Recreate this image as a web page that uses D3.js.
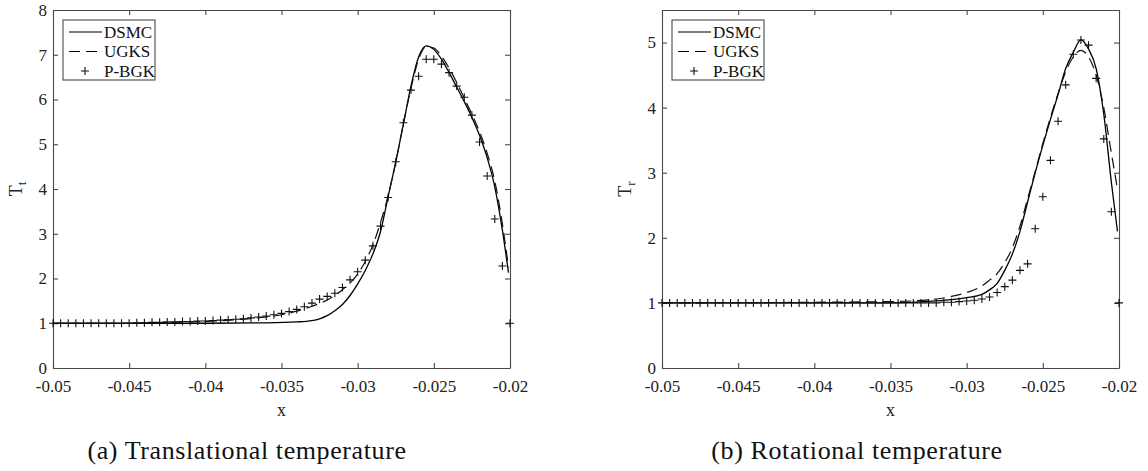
<!DOCTYPE html>
<html>
<head>
<meta charset="utf-8">
<script src="https://cdn.jsdelivr.net/npm/d3@7"></script>
<style>
	body { margin: 0; background: #fff; }
	svg { display: block; }
</style>
</head>
<body>
<svg id="chart" width="1148" height="471"></svg>
<script>
'use strict'

var xTicks = [-0.05, -0.045, -0.04, -0.035, -0.03, -0.025, -0.02];
var xTickLabels = ["-0.05", "-0.045", "-0.04", "-0.035", "-0.03", "-0.025", "-0.02"];
var seriesNames = ["DSMC", "UGKS", "P-BGK"];

// P-BGK sample positions (same grid for both panels)
var bgkX = [-0.05, -0.0495, -0.049, -0.0485, -0.048, -0.0475, -0.047, -0.0465, -0.046, -0.0455,
	-0.045, -0.0445, -0.044, -0.0435, -0.043, -0.0425, -0.042, -0.0415, -0.041, -0.0405,
	-0.04, -0.0395, -0.039, -0.0385, -0.038, -0.0375, -0.037, -0.0365, -0.036, -0.0355,
	-0.035, -0.0345, -0.034, -0.0335, -0.033, -0.0325, -0.032, -0.0315, -0.031, -0.0305,
	-0.03, -0.0295, -0.029, -0.0285, -0.028, -0.0275, -0.027, -0.0265, -0.026, -0.0255,
	-0.025, -0.0245, -0.024, -0.0235, -0.023, -0.0225, -0.022, -0.0215, -0.021, -0.0205, -0.02];

// (a) translational temperature
var ttDsmcX = [-0.05, -0.04, -0.036, -0.034, -0.033, -0.0325, -0.032, -0.0315, -0.031, -0.0305, -0.03, -0.0295, -0.029, -0.0285, -0.028, -0.0275, -0.027, -0.0265, -0.026, -0.0255, -0.025, -0.0245, -0.024, -0.0235, -0.023, -0.0225, -0.022, -0.0215, -0.021, -0.0205, -0.0201];
var ttDsmcY = [1.0, 1.0, 1.01, 1.03, 1.06, 1.10, 1.17, 1.28, 1.42, 1.62, 1.88, 2.18, 2.55, 3.05, 3.83, 4.6, 5.45, 6.3, 6.95, 7.2, 7.12, 6.9, 6.6, 6.28, 5.95, 5.6, 5.2, 4.7, 4.05, 3.08, 2.13];
var ttUgksX = [-0.05, -0.045, -0.042, -0.04, -0.038, -0.036, -0.035, -0.034, -0.033, -0.032, -0.031, -0.03, -0.0295, -0.029, -0.0285, -0.028, -0.0275, -0.027, -0.0265, -0.026, -0.0255, -0.025, -0.0245, -0.024, -0.0235, -0.023, -0.0225, -0.022, -0.0215, -0.021, -0.0205, -0.0201];
var ttUgksY = [1.0, 1.0, 1.02, 1.04, 1.08, 1.14, 1.19, 1.27, 1.38, 1.52, 1.75, 2.1, 2.38, 2.75, 3.25, 3.85, 4.6, 5.45, 6.25, 6.9, 7.18, 7.15, 6.97, 6.7, 6.38, 6.03, 5.67, 5.28, 4.8, 4.18, 3.22, 2.25];
var ttBgkY = [1.0, 1.0, 1.0, 1.0, 1.0, 1.0, 1.0, 1.0, 1.0, 1.0,
	1.0, 1.01, 1.01, 1.02, 1.02, 1.03, 1.03, 1.04, 1.04, 1.05,
	1.05, 1.06, 1.07, 1.08, 1.09, 1.10, 1.12, 1.14, 1.16, 1.19,
	1.22, 1.26, 1.31, 1.37, 1.45, 1.54, 1.60, 1.67, 1.80, 1.97,
	2.15, 2.41, 2.73, 3.17, 3.81, 4.61, 5.48, 6.21, 6.52, 6.90,
	6.90, 6.79, 6.60, 6.30, 6.05, 5.65, 5.05, 4.29, 3.33, 2.28, 1.0];

// (b) rotational temperature
var trDsmcX = [-0.05, -0.035, -0.032, -0.031, -0.03, -0.029, -0.0285, -0.028, -0.0275, -0.027, -0.0265, -0.026, -0.0255, -0.025, -0.0245, -0.024, -0.0235, -0.023, -0.0225, -0.022, -0.0215, -0.021, -0.0205, -0.0201];
var trDsmcY = [1.0, 1.0, 1.03, 1.05, 1.08, 1.13, 1.2, 1.3, 1.5, 1.75, 2.1, 2.55, 3.0, 3.42, 3.82, 4.2, 4.6, 4.85, 5.04, 4.9, 4.6, 3.9, 2.85, 2.1];
var trUgksX = [-0.05, -0.035, -0.032, -0.031, -0.03, -0.029, -0.0285, -0.028, -0.0275, -0.027, -0.0265, -0.026, -0.0255, -0.025, -0.0245, -0.024, -0.0235, -0.023, -0.0225, -0.022, -0.0215, -0.021, -0.0205, -0.0201];
var trUgksY = [1.0, 1.02, 1.06, 1.1, 1.16, 1.26, 1.35, 1.45, 1.62, 1.85, 2.18, 2.6, 3.02, 3.45, 3.85, 4.22, 4.55, 4.78, 4.88, 4.78, 4.5, 4.0, 3.3, 2.75];
var trBgkY = [1.0, 1.0, 1.0, 1.0, 1.0, 1.0, 1.0, 1.0, 1.0, 1.0,
	1.0, 1.0, 1.0, 1.0, 1.0, 1.0, 1.0, 1.0, 1.0, 1.0,
	1.0, 1.0, 1.0, 1.0, 1.0, 1.0, 1.0, 1.0, 1.0, 1.0,
	1.0, 1.0, 1.0, 1.0, 1.0, 1.0, 1.0, 1.01, 1.01, 1.02,
	1.03, 1.04, 1.06, 1.09, 1.16, 1.25, 1.35, 1.50, 1.60, 2.14,
	2.63, 3.19, 3.79, 4.35, 4.82, 5.04, 4.96, 4.45, 3.52, 2.40, 1.0];

var ttTicks = [0, 1, 2, 3, 4, 5, 6, 7, 8];
var trTicks = [0, 1, 2, 3, 4, 5];

function zip(xs, ys){
	return xs.map(function(x, i){ return {x: x, y: ys[i]}; });
}

var svg = d3.select("#chart");
var serif = '"Liberation Serif", "Times New Roman", serif';
var axisColor = "#4a4a4a";

function drawPanel(p){
	var x = d3.scaleLinear().domain([-0.05, -0.02]).range([p.left, p.right]);
	var y = d3.scaleLinear().domain(p.yDomain).range([p.bottom, p.top]);
	var g = svg.append("g").attr("class", "panel");

	// box with inward ticks on all four sides
	var fmt = function(d, i){ return xTickLabels[i]; };
	g.append("g").attr("class", "axis").attr("transform", "translate(0," + p.bottom + ")")
		.call(d3.axisBottom(x).tickValues(xTicks).tickFormat(fmt).tickSizeInner(-5).tickSizeOuter(0).tickPadding(12));
	g.append("g").attr("class", "axis").attr("transform", "translate(0," + p.top + ")")
		.call(d3.axisTop(x).tickValues(xTicks).tickFormat("").tickSizeInner(-5).tickSizeOuter(0));
	g.append("g").attr("class", "axis").attr("transform", "translate(" + p.left + ",0)")
		.call(d3.axisLeft(y).tickValues(p.yTicks).tickFormat(d3.format("d")).tickSizeInner(-5).tickSizeOuter(0).tickPadding(6));
	g.append("g").attr("class", "axis").attr("transform", "translate(" + p.right + ",0)")
		.call(d3.axisRight(y).tickValues(p.yTicks).tickFormat("").tickSizeInner(-5).tickSizeOuter(0));
	g.selectAll(".axis").attr("font-family", serif).attr("font-size", 17);
	g.selectAll(".domain, .tick line").attr("stroke", axisColor).attr("stroke-width", 1.1);
	g.selectAll(".tick text").attr("fill", "#222");

	var line = d3.line()
		.x(function(d){ return x(d.x); })
		.y(function(d){ return y(d.y); })
		.curve(d3.curveMonotoneX);

	g.append("path").datum(p.dsmc)
		.attr("d", line).attr("fill", "none").attr("stroke", "#000").attr("stroke-width", 1.3);
	g.append("path").datum(p.ugks)
		.attr("d", line).attr("fill", "none").attr("stroke", "#111").attr("stroke-width", 1.2)
		.attr("stroke-dasharray", "11,6");

	var plus = "M-4,0H4M0,-4V4";
	g.append("g").selectAll("path")
		.data(p.bgk).enter().append("path")
		.attr("d", plus)
		.attr("transform", function(d){ return "translate(" + x(d.x) + "," + y(d.y) + ")"; })
		.attr("fill", "none").attr("stroke", "#111").attr("stroke-width", 1.1);

	// legend
	var lx = p.left + 10, ly = p.top + 10;
	var leg = g.append("g").attr("transform", "translate(" + lx + "," + ly + ")");
	leg.append("rect").attr("width", 92).attr("height", 60)
		.attr("fill", "#fff").attr("stroke", axisColor).attr("stroke-width", 1.1);
	seriesNames.forEach(function(name, i){
		var ry = 12 + i * 19.5;
		if(i < 2){
			leg.append("line").attr("x1", 6).attr("x2", 39).attr("y1", ry).attr("y2", ry)
				.attr("stroke", "#000").attr("stroke-width", 1.2)
				.attr("stroke-dasharray", i === 1 ? "11,6" : null);
		} else {
			leg.append("path").attr("d", plus).attr("transform", "translate(22," + ry + ")")
				.attr("fill", "none").attr("stroke", "#111").attr("stroke-width", 1.1);
		}
		leg.append("text").attr("x", 41).attr("y", ry).attr("dy", "0.35em")
			.attr("font-family", serif).attr("font-size", 17).attr("fill", "#111")
			.text(name);
	});

	// axis labels
	g.append("text")
		.attr("x", (p.left + p.right) / 2).attr("y", 410).attr("dy", "0.35em")
		.attr("text-anchor", "middle").attr("font-family", serif).attr("font-size", 18).attr("fill", "#222")
		.text("x");
	var yl = g.append("text")
		.attr("transform", "translate(" + (p.left - 31) + "," + ((p.top + p.bottom) / 2) + ") rotate(-90)")
		.attr("text-anchor", "middle").attr("font-family", serif).attr("font-size", 18).attr("fill", "#222");
	yl.append("tspan").text("T");
	yl.append("tspan").attr("font-size", 13).attr("dy", 4).text(p.sub);

	// caption under the subfigure
	g.append("text")
		.attr("x", p.captionX).attr("y", 450).attr("dy", "0.35em")
		.attr("text-anchor", "middle").attr("font-family", serif).attr("font-size", 26)
		.attr("letter-spacing", 0.6).attr("fill", "#111")
		.text(p.caption);
}

drawPanel({
	left: 53, right: 510, top: 10, bottom: 368,
	yDomain: [0, 8], yTicks: ttTicks, sub: "t",
	dsmc: zip(ttDsmcX, ttDsmcY), ugks: zip(ttUgksX, ttUgksY), bgk: zip(bgkX, ttBgkY),
	caption: "(a) Translational temperature", captionX: 247
});
drawPanel({
	left: 662, right: 1119, top: 10, bottom: 368,
	yDomain: [0, 5.5], yTicks: trTicks, sub: "r",
	dsmc: zip(trDsmcX, trDsmcY), ugks: zip(trUgksX, trUgksY), bgk: zip(bgkX, trBgkY),
	caption: "(b) Rotational temperature", captionX: 857
});
</script>
</body>
</html>
